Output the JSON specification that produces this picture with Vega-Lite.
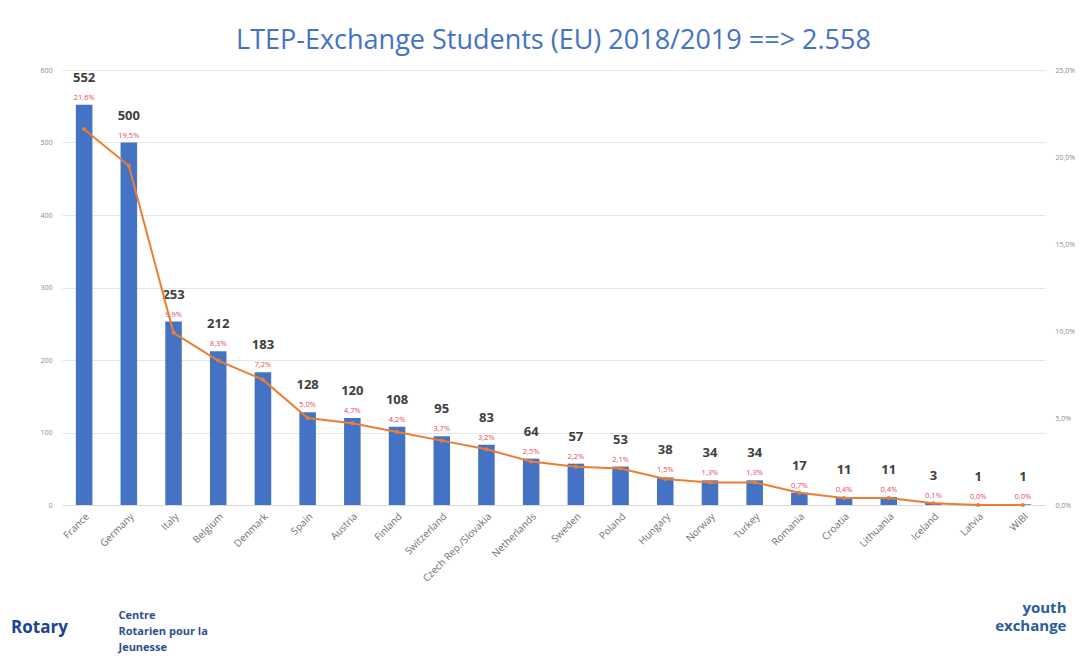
{
  "$schema": "https://vega.github.io/schema/vega-lite/v6.json",
  "autosize": {"type": "none"},
  "width": 983,
  "height": 435,
  "padding": {"left": 62, "top": 70, "right": 37, "bottom": 154},
  "background": "white",
  "title": {
    "text": "LTEP-Exchange Students (EU) 2018/2019 ==> 2.558",
    "font": "Open Sans",
    "fontSize": 27,
    "fontWeight": "normal",
    "color": "#4472C4",
    "anchor": "middle",
    "offset": 11
  },
  "config": {
    "locale": {"number": {"decimal": ",", "thousands": ".", "grouping": [3], "currency": ["", " €"]}},
    "view": {"stroke": null},
    "font": "Open Sans"
  },
  "data": {
    "values": [
      {"country": "France", "count": 552, "pct": 0.216},
      {"country": "Germany", "count": 500, "pct": 0.195},
      {"country": "Italy", "count": 253, "pct": 0.099},
      {"country": "Belgium", "count": 212, "pct": 0.083},
      {"country": "Denmark", "count": 183, "pct": 0.072},
      {"country": "Spain", "count": 128, "pct": 0.050},
      {"country": "Austria", "count": 120, "pct": 0.047},
      {"country": "Finland", "count": 108, "pct": 0.042},
      {"country": "Switzerland", "count": 95, "pct": 0.037},
      {"country": "Czech Rep./Slovakia", "count": 83, "pct": 0.032},
      {"country": "Netherlands", "count": 64, "pct": 0.025},
      {"country": "Sweden", "count": 57, "pct": 0.022},
      {"country": "Poland", "count": 53, "pct": 0.021},
      {"country": "Hungary", "count": 38, "pct": 0.015},
      {"country": "Norway", "count": 34, "pct": 0.013},
      {"country": "Turkey", "count": 34, "pct": 0.013},
      {"country": "Romania", "count": 17, "pct": 0.007},
      {"country": "Croatia", "count": 11, "pct": 0.004},
      {"country": "Lithuania", "count": 11, "pct": 0.004},
      {"country": "Iceland", "count": 3, "pct": 0.001},
      {"country": "Latvia", "count": 1, "pct": 0.0},
      {"country": "WiBl", "count": 1, "pct": 0.0}
    ]
  },
  "encoding": {
    "x": {
      "field": "country",
      "type": "nominal",
      "sort": null,
      "scale": {"paddingInner": 0.63, "paddingOuter": 0.31},
      "axis": {
        "title": ["Centre", "Rotarien pour la", "Jeunesse"],
        "titleX": 56,
        "titleY": 104,
        "titleAlign": "left",
        "titleBaseline": "top",
        "titleAngle": 0,
        "titleFontSize": 11,
        "titleFontWeight": "bold",
        "titleColor": "#2F4F8F",
        "titleLineHeight": 16,
        "labelAngle": -45,
        "labelAlign": "right",
        "labelBaseline": "top",
        "labelFontSize": 10,
        "labelColor": "#707070",
        "labelPadding": 6,
        "domain": true,
        "domainColor": "#D9D9D9",
        "ticks": false
      }
    }
  },
  "layer": [
    {
      "layer": [
        {
          "mark": {"type": "bar", "color": "#4472C4"},
          "encoding": {
            "y": {
              "field": "count",
              "type": "quantitative",
              "scale": {"domain": [0, 600]},
              "axis": {
                "title": "Rotary",
                "titleX": -23,
                "titleY": 557,
                "titleAngle": 0,
                "titleAlign": "center",
                "titleBaseline": "middle",
                "titleFontSize": 17,
                "titleFontWeight": "bold",
                "titleColor": "#17458F",
                "values": [0, 100, 200, 300, 400, 500, 600],
                "labelFontSize": 7,
                "labelColor": "#8C8C8C",
                "domain": false,
                "ticks": false,
                "labelPadding": 10,
                "grid": true,
                "gridColor": "#E6E6E6"
              }
            }
          }
        },
        {
          "mark": {"type": "text", "dy": -27, "fontSize": 13, "fontWeight": "bold", "color": "#404040", "baseline": "middle"},
          "encoding": {
            "y": {"field": "count", "type": "quantitative"},
            "text": {"field": "count", "type": "quantitative"}
          }
        },
        {
          "mark": {"type": "text", "dy": -7, "fontSize": 7.5, "color": "#E8475A", "baseline": "middle"},
          "encoding": {
            "y": {"field": "count", "type": "quantitative"},
            "text": {"field": "pct", "type": "quantitative", "format": ".1%"}
          }
        }
      ]
    },
    {
      "layer": [
        {
          "mark": {"type": "line", "color": "#ED7D31", "strokeWidth": 2, "point": {"color": "#ED7D31", "size": 18}},
          "encoding": {
            "y": {
              "field": "pct",
              "type": "quantitative",
              "scale": {"domain": [0, 0.25]},
              "axis": {
                "title": ["youth", "exchange"],
                "titleX": 21,
                "titleY": 530,
                "titleAngle": 0,
                "titleAlign": "right",
                "titleBaseline": "top",
                "titleFontSize": 15,
                "titleFontWeight": "bold",
                "titleColor": "#2A5C9A",
                "titleLineHeight": 18,
                "orient": "right",
                "values": [0, 0.05, 0.1, 0.15, 0.2, 0.25],
                "format": ".1%",
                "labelFontSize": 7,
                "labelColor": "#8C8C8C",
                "domain": false,
                "ticks": false,
                "grid": false,
                "labelPadding": 10
              }
            }
          }
        }
      ]
    }
  ],
  "resolve": {"scale": {"y": "independent"}}
}
